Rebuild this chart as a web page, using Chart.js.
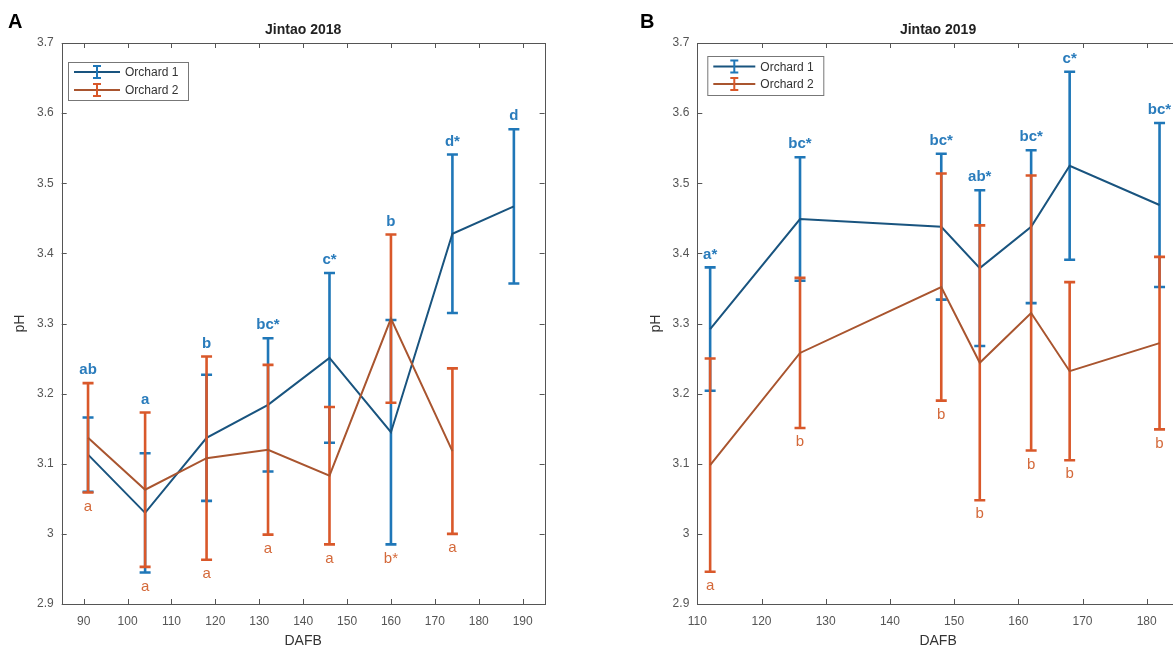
<!DOCTYPE html>
<html lang="en">
<head>
<meta charset="UTF-8">
<title>Jintao pH</title>
<script src="https://cdn.jsdelivr.net/npm/chart.js"></script>
<style>
html, body {
    margin: 0;
    padding: 0;
    background: white;
    width: 1173px;
    height: 650px;
    overflow: hidden;
}
canvas {
    position: absolute;
    top: 0;
}
#chartA { left: 0; }
#chartB { left: 590px; }
</style>
</head>
<body>
<canvas id="chartA" width="580" height="650"></canvas>
<canvas id="chartB" width="630" height="650"></canvas>

<script>
// --- data ---
const yTicks = [2.9, 3.0, 3.1, 3.2, 3.3, 3.4, 3.5, 3.6, 3.7];

// Jintao 2018
const daysA1 = [91, 104, 118, 132, 146, 160, 174, 188];
const phA1 = [3.113, 3.030, 3.137, 3.184, 3.251, 3.145, 3.428, 3.467];
const errA1 = [0.053, 0.085, 0.090, 0.095, 0.121, 0.160, 0.113, 0.110];
const daysA2 = [91, 104, 118, 132, 146, 160, 174];
const phA2 = [3.137, 3.063, 3.108, 3.120, 3.083, 3.307, 3.118];
const errA2 = [0.078, 0.110, 0.145, 0.121, 0.098, 0.120, 0.118];
const lettersA1 = ['ab', 'a', 'b', 'bc*', 'c*', 'b', 'd*', 'd'];
const lettersA2 = ['a', 'a', 'a', 'a', 'a', 'b*', 'a'];
const xTicksA = [90, 100, 110, 120, 130, 140, 150, 160, 170, 180, 190];

// Jintao 2019
const daysB = [112, 126, 148, 154, 162, 168, 182];
const phB1 = [3.292, 3.449, 3.438, 3.379, 3.438, 3.525, 3.469];
const errB1 = [0.088, 0.088, 0.104, 0.111, 0.109, 0.134, 0.117];
const phB2 = [3.098, 3.258, 3.352, 3.244, 3.315, 3.232, 3.272];
const errB2 = [0.152, 0.107, 0.162, 0.196, 0.196, 0.127, 0.123];
const lettersB1 = ['a*', 'bc*', 'bc*', 'ab*', 'bc*', 'c*', 'bc*'];
const lettersB2 = ['a', 'b', 'b', 'b', 'b', 'b', 'b'];
const xTicksB = [110, 120, 130, 140, 150, 160, 170, 180];

const seriesNames = ['Orchard 1', 'Orchard 2'];

// colours
const blueBar = '#1f77b8', blueLine = '#19547f', blueText = '#2a7cbc';
const orangeBar = '#d9582a', orangeLine = '#a9552f', orangeText = '#d4693a';
const FONT = "'Liberation Sans', Arial, sans-serif";

function toPoints(xs, ys) {
    return xs.map((x, i) => ({ x: x, y: ys[i] }));
}

// error bars, drawn just before each series line
const errorBars = {
    id: 'errorBars',
    beforeDatasetDraw(chart, args, opts) {
        const s = opts.series[args.index];
        const xs = chart.scales.x, ys = chart.scales.y, ctx = chart.ctx;
        ctx.save();
        ctx.strokeStyle = s.color;
        ctx.lineWidth = 2.6;
        s.x.forEach((d, i) => {
            const px = xs.getPixelForValue(d);
            const top = ys.getPixelForValue(s.y[i] + s.err[i]);
            const bot = ys.getPixelForValue(s.y[i] - s.err[i]);
            ctx.beginPath();
            ctx.moveTo(px, top); ctx.lineTo(px, bot);
            ctx.moveTo(px - 5.5, top); ctx.lineTo(px + 5.5, top);
            ctx.moveTo(px - 5.5, bot); ctx.lineTo(px + 5.5, bot);
            ctx.stroke();
        });
        ctx.restore();
    }
};

// significance letters: orchard 1 above the highest cap, orchard 2 below the lowest
const letters = {
    id: 'letters',
    afterDatasetsDraw(chart, args, opts) {
        const [s1, s2] = opts.series;
        const xs = chart.scales.x, ys = chart.scales.y, ctx = chart.ctx;
        ctx.save();
        ctx.textAlign = 'center';
        ctx.textBaseline = 'middle';
        const hi = {}, lo = {};
        [s1, s2].forEach(s => s.x.forEach((d, i) => {
            const u = s.y[i] + s.err[i], l = s.y[i] - s.err[i];
            hi[d] = hi[d] === undefined ? u : Math.max(hi[d], u);
            lo[d] = lo[d] === undefined ? l : Math.min(lo[d], l);
        }));
        ctx.fillStyle = blueText;
        ctx.font = 'bold 15px ' + FONT;
        s1.x.forEach((d, i) => {
            ctx.fillText(s1.letters[i], xs.getPixelForValue(d), ys.getPixelForValue(hi[d]) - 13);
        });
        ctx.fillStyle = orangeText;
        ctx.font = '15px ' + FONT;
        s2.x.forEach((d, i) => {
            ctx.fillText(s2.letters[i], xs.getPixelForValue(d), ys.getPixelForValue(lo[d]) + 14);
        });
        ctx.restore();
    }
};

// matlab-like box, inward ticks, title, panel letter, legend
const decor = {
    id: 'decor',
    afterDraw(chart, args, opts) {
        const ctx = chart.ctx, a = chart.chartArea;
        const xs = chart.scales.x, ys = chart.scales.y;
        ctx.save();
        ctx.strokeStyle = '#555';
        ctx.lineWidth = 1;
        ctx.beginPath();
        xs.ticks.forEach(t => {
            const px = Math.round(xs.getPixelForValue(t.value)) + 0.5;
            ctx.moveTo(px, a.bottom); ctx.lineTo(px, a.bottom - 5);
            ctx.moveTo(px, a.top); ctx.lineTo(px, a.top + 5);
        });
        ys.ticks.forEach(t => {
            const py = Math.round(ys.getPixelForValue(t.value)) + 0.5;
            ctx.moveTo(a.left, py); ctx.lineTo(a.left + 5, py);
            ctx.moveTo(a.right, py); ctx.lineTo(a.right - 5, py);
        });
        ctx.stroke();
        ctx.strokeRect(Math.round(a.left) + 0.5, Math.round(a.top) + 0.5,
            Math.round(a.right - a.left), Math.round(a.bottom - a.top));

        // title + panel letter
        ctx.fillStyle = '#222';
        ctx.textAlign = 'center';
        ctx.textBaseline = 'middle';
        ctx.font = 'bold 14px ' + FONT;
        ctx.fillText(opts.title, (a.left + a.right) / 2, 30);
        ctx.fillStyle = '#000';
        ctx.textAlign = 'left';
        ctx.font = '900 20px ' + FONT;
        ctx.fillText(opts.panel, opts.panelX, 22);

        // legend
        const L = opts.legend;
        const bx = a.left + L.dx, by = a.top + L.dy;
        ctx.fillStyle = '#fff';
        ctx.fillRect(bx, by, L.w, L.h);
        ctx.strokeStyle = '#777';
        ctx.strokeRect(bx + 0.5, by + 0.5, L.w, L.h);
        const cols = [[blueBar, blueLine], [orangeBar, orangeLine]];
        seriesNames.forEach((name, i) => {
            const ey = by + L.firstY + i * L.gap;
            const x0 = bx + 6, x1 = x0 + L.lineLen, xm = (x0 + x1) / 2;
            ctx.strokeStyle = cols[i][1];
            ctx.lineWidth = 2;
            ctx.beginPath(); ctx.moveTo(x0, ey); ctx.lineTo(x1, ey); ctx.stroke();
            ctx.strokeStyle = cols[i][0];
            ctx.lineWidth = 2;
            ctx.beginPath();
            ctx.moveTo(xm, ey - 6); ctx.lineTo(xm, ey + 6);
            ctx.moveTo(xm - 4, ey - 6); ctx.lineTo(xm + 4, ey - 6);
            ctx.moveTo(xm - 4, ey + 6); ctx.lineTo(xm + 4, ey + 6);
            ctx.stroke();
            ctx.fillStyle = '#333';
            ctx.font = '12px ' + FONT;
            ctx.textBaseline = 'middle';
            ctx.fillText(name, x1 + 5, ey + 1);
        });
        ctx.restore();
    }
};

function makePanel(id, cfg) {
    const series = [
        { x: cfg.x1, y: cfg.y1, err: cfg.e1, letters: cfg.l1, color: blueBar },
        { x: cfg.x2, y: cfg.y2, err: cfg.e2, letters: cfg.l2, color: orangeBar }
    ];
    return new Chart(document.getElementById(id), {
        type: 'line',
        data: {
            datasets: [
                { label: seriesNames[0], data: toPoints(cfg.x1, cfg.y1), borderColor: blueLine,
                  borderWidth: 2, pointRadius: 0, tension: 0, fill: false, order: 1 },
                { label: seriesNames[1], data: toPoints(cfg.x2, cfg.y2), borderColor: orangeLine,
                  borderWidth: 2, pointRadius: 0, tension: 0, fill: false, order: 0 }
            ]
        },
        options: {
            responsive: false,
            animation: false,
            devicePixelRatio: 1,
            layout: { padding: { left: cfg.padLeft, right: cfg.padRight, top: 43, bottom: 0 } },
            plugins: {
                legend: { display: false },
                tooltip: { enabled: false },
                errorBars: { series: series },
                letters: { series: series },
                decor: { title: cfg.title, panel: cfg.panel, panelX: cfg.panelX, legend: cfg.legend }
            },
            scales: {
                x: {
                    type: 'linear',
                    min: cfg.xMin,
                    max: cfg.xMax,
                    afterBuildTicks: s => { s.ticks = cfg.xTicks.map(v => ({ value: v })); },
                    afterFit: s => { s.height = 46; },
                    grid: { display: false, drawTicks: false },
                    border: { display: false },
                    ticks: { color: '#555', font: { family: FONT, size: 12 }, padding: 10,
                             maxRotation: 0, autoSkip: false },
                    title: { display: true, text: 'DAFB', color: '#333',
                             font: { family: FONT, size: 14 }, padding: { top: 0, bottom: 0 } }
                },
                y: {
                    type: 'linear',
                    min: 2.9,
                    max: 3.7,
                    afterBuildTicks: s => { s.ticks = yTicks.map(v => ({ value: v })); },
                    afterFit: s => { s.width = 61.7; },
                    grid: { display: false, drawTicks: false },
                    border: { display: false },
                    ticks: { color: '#555', font: { family: FONT, size: 12 }, padding: 8,
                             callback: v => String(+v.toFixed(1)) },
                    title: { display: true, text: 'pH', color: '#333',
                             font: { family: FONT, size: 14 }, padding: { top: 12, bottom: 0 } }
                }
            }
        },
        plugins: [errorBars, letters, decor]
    });
}

makePanel('chartA', {
    x1: daysA1, y1: phA1, e1: errA1, l1: lettersA1,
    x2: daysA2, y2: phA2, e2: errA2, l2: lettersA2,
    xMin: 85, xMax: 195, xTicks: xTicksA,
    padLeft: 0, padRight: 35.4,
    title: 'Jintao 2018', panel: 'A', panelX: 8,
    legend: { dx: 6.3, dy: 19, w: 120, h: 38, firstY: 10, gap: 18, lineLen: 46 }
});

makePanel('chartB', {
    x1: daysB, y1: phB1, e1: errB1, l1: lettersB1,
    x2: daysB, y2: phB2, e2: errB2, l2: lettersB2,
    xMin: 110, xMax: 185, xTicks: xTicksB,
    padLeft: 45.6, padRight: 41.2,
    title: 'Jintao 2019', panel: 'B', panelX: 50,
    legend: { dx: 10, dy: 13, w: 116, h: 39, firstY: 10.5, gap: 17.5, lineLen: 42 }
});
</script>
</body>
</html>
